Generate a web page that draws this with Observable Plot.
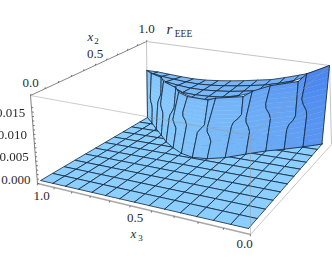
<!DOCTYPE html>
<html><head><meta charset="utf-8">
<script src="https://cdn.jsdelivr.net/npm/d3@7"></script>
<script src="https://cdn.jsdelivr.net/npm/@observablehq/plot@0.6"></script>
<style>html,body{margin:0;padding:0;background:#fff;overflow:hidden}svg{display:block;filter:blur(0.3px)}</style>
</head><body><div id="c"></div><script>
// values
const x2Ticks = [0.0, 0.5, 1.0];
const x3Ticks = [1.0, 0.5, 0.0];
const zTicks = [0.000, 0.005, 0.010, 0.015];
const zMax = 0.0197;
// one entry per mesh line x3 = 0, 1/14, ... 1
const footX2 = [.99,.915,.845,.785,.705,.62,.57,.555,.58,.63,.69,.77,.845,.925,1.0];
const ridgeX2 = [1.0,.96,.91,.86,.80,.745,.70,.675,.685,.72,.765,.82,.88,.94,1.0];
const ridgeZ = [197,175,161,149,139,132,126,123,122,123,126,128,128,125,122]; // 1e-4
const backZ = [197,175,163,152,142,136,130,125,121,118,117,118,120,122,122]; // 1e-4
const jogT = [.5,.55,.4,.6,.45,.62,.38,.5,.6,.42,.55,.48,.6,.4,.5];
const jogX3 = [0,.034,-.034,.036,.03,-.038,.034,-.028,.034,.026,-.02,.02,-.016,.014,0];
const N = 14, M = 11; // mesh cells along x3 and x2

// camera: box corners on screen, (x3,x2) = (0,0),(1,0),(1,1),(0,1)
function homography(q){
  const [[x0,y0],[x1,y1],[x2,y2],[x3,y3]] = q;
  const dx1=x1-x2,dx2=x3-x2,sx=x0-x1+x2-x3,dy1=y1-y2,dy2=y3-y2,sy=y0-y1+y2-y3;
  const den=dx1*dy2-dx2*dy1, g=(sx*dy2-dx2*sy)/den, h=(dx1*sy-sx*dy1)/den;
  const a=x1-x0+g*x1,b=x3-x0+h*x3,d=y1-y0+g*y1,e=y3-y0+h*y3;
  return (u,v)=>{const w=g*u+h*v+1;return [(a*u+b*v+x0)/w,(d*u+e*v+y0)/w];};
}
const surfaceFloorH = homography([[248,228],[40,180],[147,117],[322,143]]);
const boxFloorH = homography([[250,234],[37,183],[147,120],[331,144]]);
const topH = homography([[250,135],[30,95],[146,41],[329,65]]);
const lift=(p,q,z)=>{const t=z/zMax;return [p[0]+(q[0]-p[0])*t,p[1]+(q[1]-p[1])*t];};
const project=(x3,x2,z)=>lift(surfaceFloorH(x3,x2),topH(x3,x2),z);
const boxProject=(x3,x2,z)=>lift(boxFloorH(x3,x2),topH(x3,x2),z);

const mix = d3.interpolateRgb("#8accfd","#4a86ee");
const wallColor=(x3,zf)=>mix(Math.min(1,Math.max(0,0.3*zf*zf+0.85*Math.pow(1-x3,2.5))));
const topColor=x3=>d3.interpolateRgb("#82c2f9","#6eaaf3")(1-x3);
const MESH="#13263a";
const polys=[]; let id=0;
const addPoly=(pts,fill,stroke,sw)=>{pts.forEach(p=>polys.push({id,x:p[0],y:p[1],fill,stroke,sw}));id++;};

// floor, back to front
for(let j=M-1;j>=0;j--) for(let i=N-1;i>=0;i--){
  const c=[[i,j],[i+1,j],[i+1,j+1],[i,j+1]].map(([a,b])=>project(a/N,b/M,0));
  addPoly([...c,c[0]],"#8ccfff","#13263a",0.8);
}
// plateau, back to front: a mesh point behind the ridge gets its height from the two edges
const topZ=(i,x2)=>{const t=(x2-ridgeX2[i])/Math.max(1e-6,1-ridgeX2[i]);return (ridgeZ[i]+(backZ[i]-ridgeZ[i])*Math.min(1,Math.max(0,t)))*1e-4;};
const topPt=(i,b)=>{const x2=Math.max(b/M,ridgeX2[i]);return project(i/N,x2,topZ(i,x2));};
for(let j=M-1;j>=0;j--) for(let i=N-1;i>=0;i--){
  if((j+1)/M<=Math.min(ridgeX2[i],ridgeX2[i+1])) continue;
  const c=[topPt(i,j),topPt(i+1,j),topPt(i+1,j+1),topPt(i,j+1)];
  addPoly([...c,c[0]],topColor((i+.5)/N),MESH,0.8);
}
// wall: a mesh line climbs from foot to ridge with a jog at mid height
const side=(i,t)=>{
  const h=ridgeZ[i]*1e-4, x2=footX2[i]+(ridgeX2[i]-footX2[i])*t;
  const jt=jogT[i], s0=jt-.07, s1=jt+.07;
  const sh=t<=s0?0:t>=s1?jogX3[i]*(1-(t-s1)/(1-s1)*.3):jogX3[i]*(t-s0)/(s1-s0);
  return project(i/N+sh,x2,h*t);
};
const ts=d3.range(0,1.0001,1/14);
for(let i=N-1;i>=0;i--){
  for(let k=0;k<ts.length-1;k++){
    const a=ts[k],b=ts[k+1];
    const f=wallColor((i+.5)/N,(a+b)/2*(ridgeZ[i]+ridgeZ[i+1])/2/197);
    addPoly([side(i,a),side(i+1,a),side(i+1,b),side(i,b)],f,f,0.4);
  }
  addPoly(ts.map(t=>side(i+1,t)),"none",MESH,0.85);
  addPoly(ts.map(t=>side(i,t)),"none",MESH,0.85);
  addPoly([side(i,1),side(i+1,1)],"none",MESH,0.85);
  addPoly([side(i,0),side(i+1,0)],"none",MESH,0.85);
}
const seg=(a,b)=>{const p=boxProject(...a),q=boxProject(...b);return {x1:p[0],y1:p[1],x2:q[0],y2:q[1]};};
const backEdges=[seg([1,1,zMax],[0,1,zMax]),seg([1,1,0],[1,1,zMax]),seg([0,1,0],[0,1,zMax])];
const darkEdges=[seg([1,0,zMax],[1,1,zMax]),seg([1,0,0],[1,0,zMax])];
const frontEdges=[seg([1,0,zMax],[0,0,zMax]),seg([0,0,zMax],[0,1,zMax]),seg([0,0,0],[0,0,zMax])];
const floorEdges=[seg([1,0,0],[0,0,0])];
const floorEdges2=[seg([0,0,0],[0,1,0])];

const d2=d3.range(0,1.0001,0.1), d3t=d3.range(0,1.0001,0.1), dz=d3.range(0,0.0176,0.001);
const tk=[];
d2.forEach(v=>{const p=boxProject(1,v,zMax);tk.push({x1:p[0],y1:p[1],x2:p[0]+0.6,y2:p[1]-1.6});});
d3t.forEach(v=>{const p=boxProject(v,0,0);tk.push({x1:p[0],y1:p[1],x2:p[0]-0.3,y2:p[1]+1.8});});
dz.forEach(v=>{const p=boxProject(1,0,v);tk.push({x1:p[0],y1:p[1],x2:p[0]+1.8,y2:p[1]+0.1});});

const lab=(t,p,dx,dy)=>({t,x:p[0]+dx,y:p[1]+dy});
const fmt1=d3.format(".1f"),fmt3=d3.format(".3f");
const labelsMid=[
  ...x2Ticks.map(v=>lab(fmt1(v),boxProject(1,v,zMax),0,v===0.5?-12:-12.5)),
  ...x3Ticks.map(v=>lab(fmt1(v),boxProject(v,0,0),v===0?-6:v===1?4:5,v===0?9:12))
];
const labelsEnd=zTicks.map(v=>lab(fmt3(v),boxProject(1,0,v),-7,-4));

const serif="'Liberation Serif','Times New Roman',serif";
const common={fontFamily:serif,fill:"#2a2a2a",fontSize:13};
const T=(s,x,y,size,italic)=>Plot.text([s],{x:[x],y:[y],text:d=>d,fontFamily:serif,fontSize:size,fill:"#2a2a2a",fontStyle:italic?"italic":"normal"});
const plot=Plot.plot({
  width:332,height:270,margin:0,
  style:{background:"#fff",overflow:"visible",fontFamily:serif},
  x:{domain:[0,332],range:[0,332],axis:null},
  y:{domain:[0,270],range:[0,270],axis:null},
  marks:[
    Plot.link(backEdges,{x1:"x1",y1:"y1",x2:"x2",y2:"y2",stroke:"#c4c4c4",strokeWidth:1}),
    Plot.link(darkEdges,{x1:"x1",y1:"y1",x2:"x2",y2:"y2",stroke:"#858585",strokeWidth:1}),
    Plot.link(floorEdges,{x1:"x1",y1:"y1",x2:"x2",y2:"y2",stroke:"#a8a8a8",strokeWidth:1.5}),
    Plot.link(floorEdges2,{x1:"x1",y1:"y1",x2:"x2",y2:"y2",stroke:"#c8c8c8",strokeWidth:1}),
    Plot.line(polys,{x:"x",y:"y",z:"id",curve:"linear",
      fill:{value:"fill",scale:null},stroke:{value:"stroke",scale:null},strokeWidth:"sw",strokeLinejoin:"round"}),
    Plot.link(frontEdges,{x1:"x1",y1:"y1",x2:"x2",y2:"y2",stroke:"#999",strokeOpacity:.5,strokeWidth:1}),
    Plot.link(tk,{x1:"x1",y1:"y1",x2:"x2",y2:"y2",stroke:"#555",strokeWidth:.8}),
    Plot.text(labelsMid,{x:"x",y:"y",text:"t",...common}),
    Plot.text(labelsEnd,{x:"x",y:"y",text:"t",textAnchor:"end",...common}),
    T("x",90,36,13,true),T("2",96,41,9,false),
    T("x",133,233,13,true),T("3",140,238,9,false),
    T("r",169,29,15,true),T("EEE",183,33,9.5,false)
  ]
});
document.getElementById("c").appendChild(plot);
</script></body></html>
